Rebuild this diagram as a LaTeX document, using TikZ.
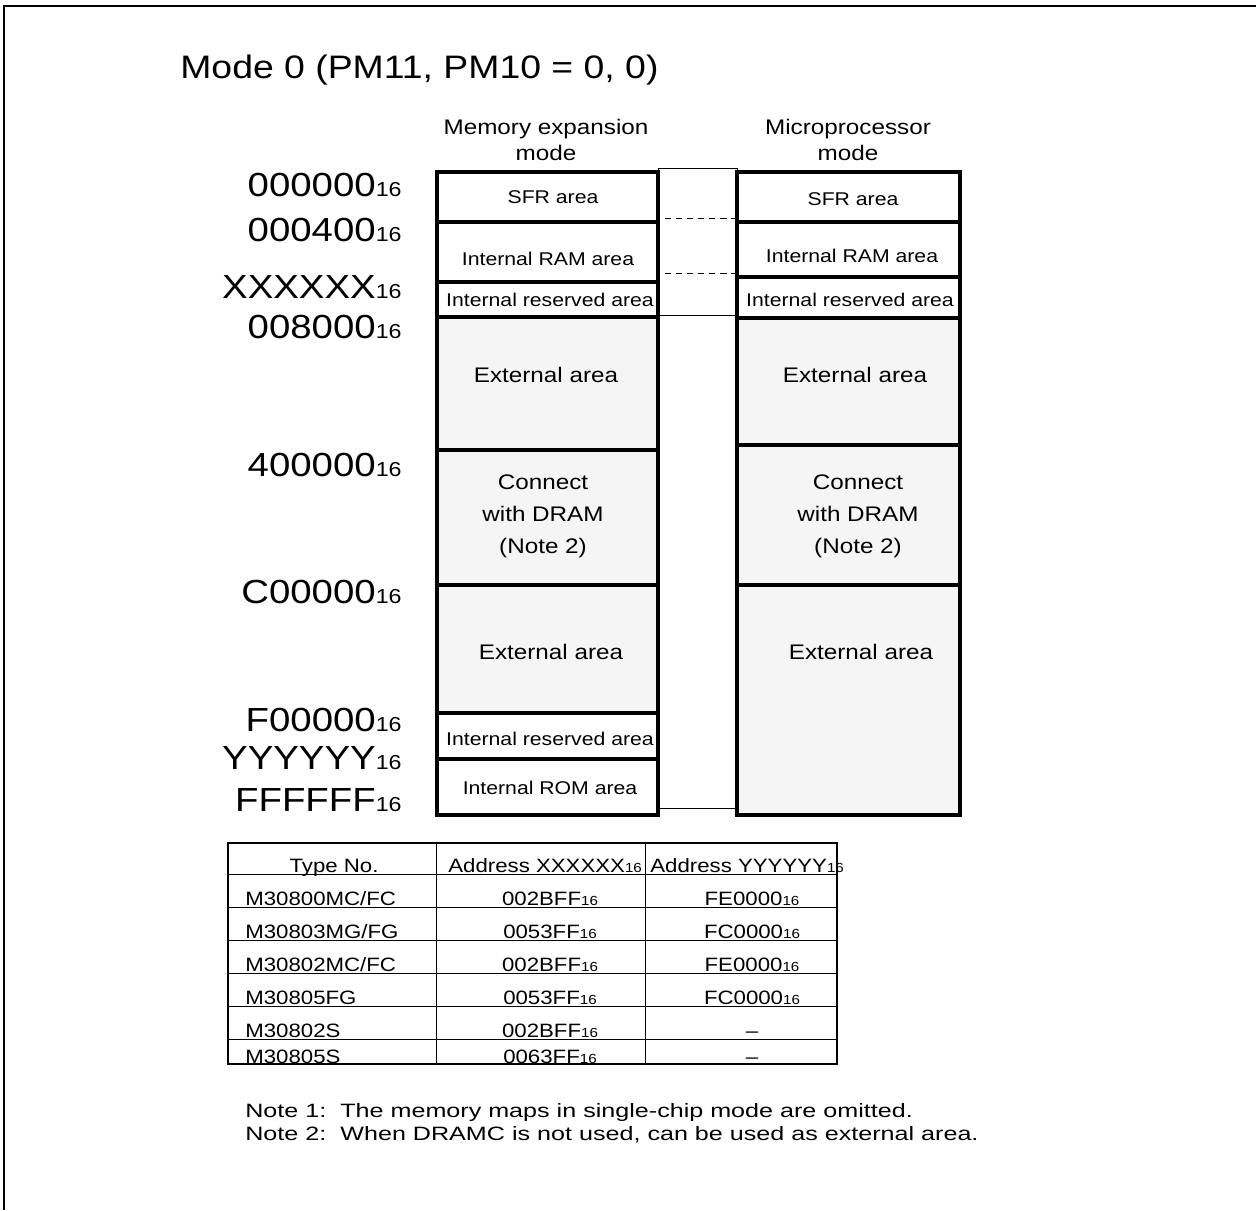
\documentclass[tikz,border=0pt]{standalone}
\usepackage{fontspec}
\setmainfont{Liberation Sans}[FakeStretch=1.15]
\newfontfamily\notefont{Liberation Sans}[FakeStretch=1.3]
\definecolor{areagray}{RGB}{245,245,245}
\newcommand{\sixt}[1][11.5]{{\fontsize{#1}{#1}\selectfont 16}}

\begin{document}
\begin{tikzpicture}[x=0.02cm,y=-0.02cm,
  thk/.style={line width=2.4pt},
  addr/.style={anchor=east,inner sep=0pt,font=\fontsize{19}{22}\selectfont},
  hdr/.style={align=center,inner sep=0pt,font=\fontsize{12}{15.3}\selectfont},
  lbl/.style={inner sep=0pt,font=\fontsize{10.5}{12}\selectfont},
  big/.style={align=center,inner sep=0pt,font=\fontsize{12}{18.2}\selectfont},
  tab/.style={anchor=base,inner sep=0pt,font=\fontsize{11}{13}\selectfont},
  note/.style={anchor=base west,inner sep=0pt,font=\notefont\fontsize{11}{13}\selectfont}]
\useasboundingbox (0,0) rectangle (1256,1210);
\draw[line width=1.4pt] (4,1210) -- (4,6) -- (1256,6);

\node[anchor=west,inner sep=0pt,font=\fontsize{18.5}{22}\selectfont] (title) at (180,70) {Mode 0 (PM11, PM10 = 0, 0)};

\node[hdr] (hdrexp) at (546,140) {Memory expansion\\mode};
\node[hdr] (hdrmp) at (848,140) {Microprocessor\\mode};

% addresses
\node[addr] (a000000) at (402,185) {000000\sixt};
\node[addr] (a000400) at (402,230) {000400\sixt};
\node[addr] (axxxxxx) at (402,287) {XXXXXX\sixt};
\node[addr] (a008000) at (402,327) {008000\sixt};
\node[addr] (a400000) at (402,465) {400000\sixt};
\node[addr] (ac00000) at (402,592) {C00000\sixt};
\node[addr] (af00000) at (402,720) {F00000\sixt};
\node[addr] (ayyyyyy) at (402,758) {YYYYYY\sixt};
\node[addr] (affffff) at (402,800) {FFFFFF\sixt};

% memory expansion mode
\fill[areagray] (437,317) rectangle (658,713);
\draw[thk] (437,172) rectangle (658,815);
\draw[thk] (437,222) -- (658,222);
\draw[thk] (437,282) -- (658,282);
\draw[thk] (437,317) -- (658,317);
\draw[thk] (437,450) -- (658,450);
\draw[thk] (437,585) -- (658,585);
\draw[thk] (437,713) -- (658,713);
\draw[thk] (437,759) -- (658,759);

% microprocessor mode
\fill[areagray] (737,318) rectangle (960,815);
\draw[thk] (737,172) rectangle (960,815);
\draw[thk] (737,222) -- (960,222);
\draw[thk] (737,277) -- (960,277);
\draw[thk] (737,318) -- (960,318);
\draw[thk] (737,445) -- (960,445);
\draw[thk] (737,585) -- (960,585);

% gap between the maps
\draw (658,808) -- (658,168) -- (737,168) -- (737,808);
\draw (658,315) -- (737,315);
\draw (658,808) -- (737,808);
\draw[dash pattern=on 3.5pt off 2.8pt] (665,218) -- (735,218);
\draw[dash pattern=on 3.5pt off 2.8pt] (665,273) -- (735,273);

\node[lbl] (sfrexp) at (553,197) {SFR area};
\node[lbl] (ramexp) at (548,259) {Internal RAM area};
\node[lbl] (rsvexp) at (550,300) {Internal reserved area};
\node[big] (extexp) at (546,375) {External area};
\node[big] (dramexp) at (543,516) {Connect\\with DRAM\\(Note 2)};
\node[big] (ext2exp) at (551,652) {External area};
\node[lbl] (rsv2exp) at (550,739) {Internal reserved area};
\node[lbl] (romexp) at (550,788) {Internal ROM area};

\node[lbl] (sfrmp) at (853,199) {SFR area};
\node[lbl] (rammp) at (852,256) {Internal RAM area};
\node[lbl] (rsvmp) at (850,300) {Internal reserved area};
\node[big] (extmp) at (855,375) {External area};
\node[big] (drammp) at (858,516) {Connect\\with DRAM\\(Note 2)};
\node[big] (ext2mp) at (861,652) {External area};

% type table
\draw[line width=1.1pt] (228,843) rectangle (837,1064);
\draw (436,843) -- (436,1064);
\draw (645,843) -- (645,1064);
\draw (228,874) -- (837,874);
\draw (228,907) -- (837,907);
\draw (228,940) -- (837,940);
\draw (228,973) -- (837,973);
\draw (228,1006) -- (837,1006);
\draw (228,1039) -- (837,1039);

\node[tab] (typeno) at (334,872) {Type No.};
\node[tab,anchor=base west] (addrx) at (448,872) {Address XXXXXX\sixt[7.5]};
\node[tab,anchor=base west] (addry) at (650,872) {Address YYYYYY\sixt[7.5]};

\node[tab,anchor=base west] (type1) at (245,905) {M30800MC/FC};
\node[tab] (xa1) at (550,905) {002BFF\sixt[7.5]};
\node[tab] (ya1) at (752,905) {FE0000\sixt[7.5]};
\node[tab,anchor=base west] (type2) at (245,938) {M30803MG/FG};
\node[tab] (xa2) at (550,938) {0053FF\sixt[7.5]};
\node[tab] (ya2) at (752,938) {FC0000\sixt[7.5]};
\node[tab,anchor=base west] (type3) at (245,971) {M30802MC/FC};
\node[tab] (xa3) at (550,971) {002BFF\sixt[7.5]};
\node[tab] (ya3) at (752,971) {FE0000\sixt[7.5]};
\node[tab,anchor=base west] (type4) at (245,1004) {M30805FG};
\node[tab] (xa4) at (550,1004) {0053FF\sixt[7.5]};
\node[tab] (ya4) at (752,1004) {FC0000\sixt[7.5]};
\node[tab,anchor=base west] (type5) at (245,1037) {M30802S};
\node[tab] (xa5) at (550,1037) {002BFF\sixt[7.5]};
\node[tab] (ya5) at (752,1037) {\textendash};
\node[tab,anchor=base west] (type6) at (245,1063) {M30805S};
\node[tab] (xa6) at (550,1063) {0063FF\sixt[7.5]};
\node[tab] (ya6) at (752,1063) {\textendash};

% notes
\node[note] (note1) at (245,1117) {Note 1:};
\node[note] (note1txt) at (340,1117) {The memory maps in single-chip mode are omitted.};
\node[note] (note2) at (245,1140) {Note 2:};
\node[note] (note2txt) at (340,1140) {When DRAMC is not used, can be used as external area.};
\end{tikzpicture}
\end{document}
